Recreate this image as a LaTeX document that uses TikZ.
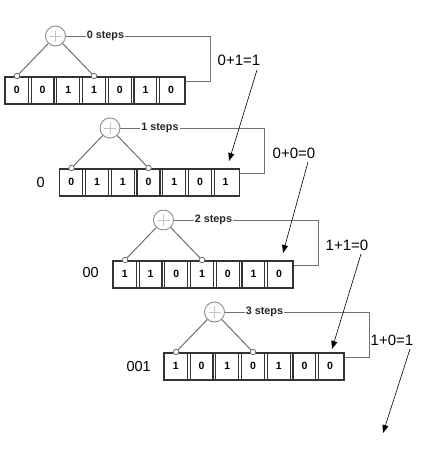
\documentclass[tikz,border=0pt]{standalone}
\usepackage{fontspec}
\setmainfont{Liberation Sans}
\usetikzlibrary{calc,arrows.meta}
\definecolor{celldark}{HTML}{333333}
\definecolor{wiregray}{HTML}{707070}
\definecolor{addgray}{HTML}{8C8C8C}
\definecolor{plusgray}{HTML}{C4C4C4}
\tikzset{
  arr/.style={draw=celldark, line width=1.7pt, minimum width=180pt, minimum height=27pt, inner sep=0pt, anchor=north west},
  cellline/.style={draw=celldark, line width=1.2pt},
  bit/.style={font=\bfseries\fontsize{10.5}{11}\selectfont, inner sep=0pt, text=black},
  adder/.style={circle, draw=addgray, line width=0.9pt, minimum size=20pt, inner sep=0pt, fill=white},
  plusline/.style={draw=plusgray, line width=0.9pt},
  tap/.style={circle, draw=wiregray, line width=0.8pt, minimum size=5.5pt, inner sep=0pt, fill=white},
  wire/.style={draw=wiregray, line width=1pt},
  stepslbl/.style={font=\bfseries\fontsize{10.8}{12}\selectfont, inner sep=1pt, text=black!85},
  eqlbl/.style={font=\fontsize{15}{17}\selectfont, inner sep=0pt},
  prelbl/.style={font=\fontsize{14.5}{17}\selectfont, inner sep=0pt, anchor=east},
  arrowline/.style={draw=black, line width=0.6pt, -{Triangle[length=8pt,width=6pt]}}
}
\newcommand{\bitrow}[5]{%
  \node[arr] (arr#1) at (#2,#3) {};
  \foreach \kk in {1,...,6} {
    \draw[cellline] ($(arr#1.north west)+({\kk*180/7-1.4},0)$) -- ($(arr#1.south west)+({\kk*180/7-1.4},0)$);
    \draw[cellline] ($(arr#1.north west)+({\kk*180/7+1.4},0)$) -- ($(arr#1.south west)+({\kk*180/7+1.4},0)$);
  }
  \foreach \b [count=\k] in {#4} {
    \node[bit] (arr#1-\k) at ($(arr#1.west)+({(\k-0.5)*180/7},0)$) {\b};
  }
  \node[adder] (add#1) at (#2+51.5,#3-40) {};
  \draw[plusline] ($(add#1)+(-6,0)$) -- ($(add#1)+(6,0)$);
  \draw[plusline] ($(add#1)+(0,-6)$) -- ($(add#1)+(0,6)$);
  \node[tap] (ta#1) at (#2+13,#3) {};
  \node[tap] (tb#1) at (#2+90,#3) {};
  \draw[wire] (add#1) -- (ta#1);
  \draw[wire] (add#1) -- (tb#1);
  \node[stepslbl] (st#1) at (#2+101.5,#3-40) {#5 steps};
  \coordinate (ca#1) at (#2+206,#3-40);
  \coordinate (cb#1) at (#2+206,#3+5);
  \draw[wire] (add#1) -- (st#1);
  \draw[wire] (st#1) -- (ca#1) -- (cb#1) -- (cb#1 -| arr#1.east);
}
\begin{document}
\begin{tikzpicture}[x=1pt,y=-1pt]
\useasboundingbox[fill=white] (0,0) rectangle (447,456);
\bitrow{1}{4}{76}{0,0,1,1,0,1,0}{0}
\bitrow{2}{58.5}{168}{0,1,1,0,1,0,1}{1}
\bitrow{3}{112}{260}{1,1,0,1,0,1,0}{2}
\bitrow{4}{163}{352}{1,0,1,0,1,0,0}{3}
\node[prelbl] (pre2) at (45,183) {0};
\node[prelbl] (pre3) at (99,273) {00};
\node[prelbl] (pre4) at (151,367) {001};
\node[eqlbl] (eq1) at (239,60.5) {0+1=1};
\node[eqlbl] (eq2) at (294,153) {0+0=0};
\node[eqlbl] (eq3) at (347,245) {1+1=0};
\node[eqlbl] (eq4) at (392,340) {1+0=1};
\coordinate (s1) at (257,70);
\coordinate (t1) at (229,161);
\coordinate (s2) at (308,162);
\coordinate (t2) at (283,253);
\coordinate (s3) at (361,254);
\coordinate (t3) at (332,349);
\coordinate (s4) at (410,349);
\coordinate (t4) at (383,433);
\draw[arrowline] (s1) -- (t1);
\draw[arrowline] (s2) -- (t2);
\draw[arrowline] (s3) -- (t3);
\draw[arrowline] (s4) -- (t4);
\end{tikzpicture}
\end{document}
